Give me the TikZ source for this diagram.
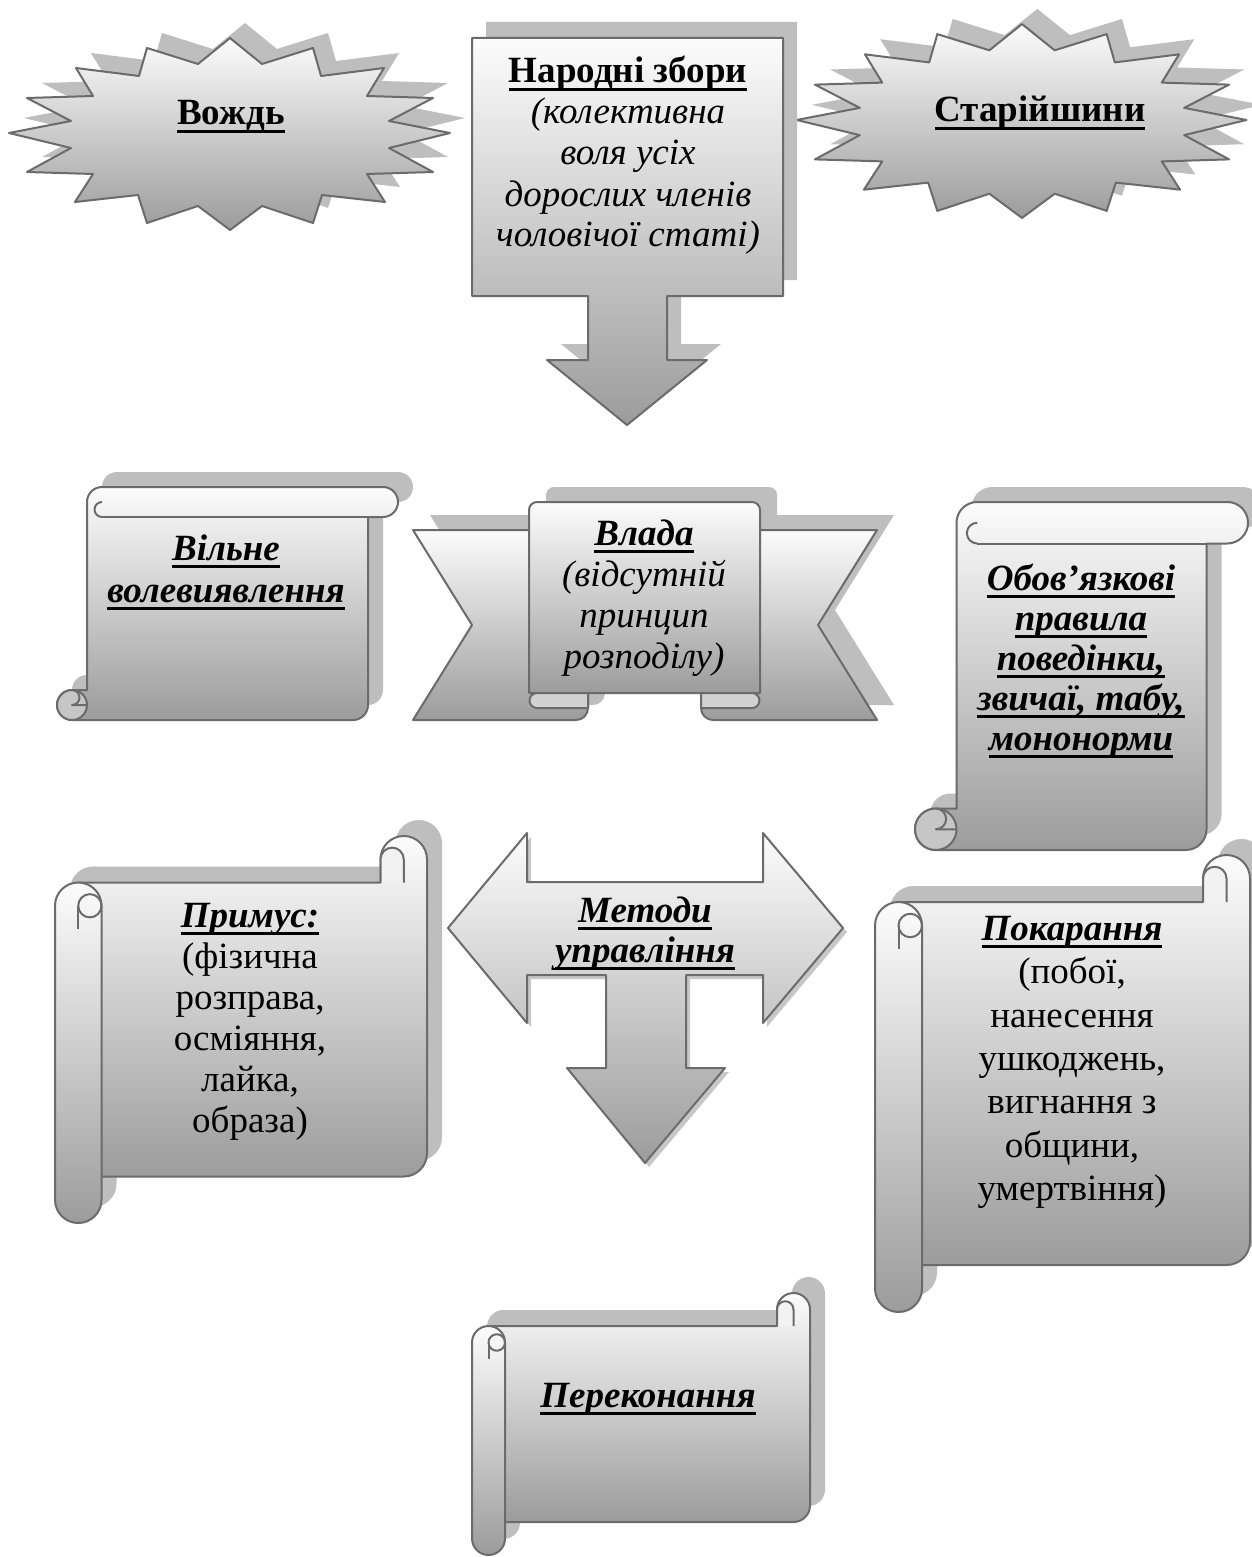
\documentclass[tikz,border=0pt]{standalone}
\usepackage{fontspec}
\setmainfont{Liberation Serif}
\newcommand\myul[1]{\setbox0\hbox{#1}\leavevmode\rlap{\rule[-3.9pt]{\wd0}{1.3pt}}\box0}
\definecolor{edgec}{HTML}{6B6B6B}
\definecolor{shadc}{HTML}{BEBEBE}
\definecolor{gtop}{HTML}{FCFCFC}
\definecolor{gbot}{HTML}{9C9C9C}
\definecolor{curlc}{HTML}{C6C6C6}
\definecolor{bandc}{HTML}{D2D2D2}

% vertical scroll: l t r b ch
\newcommand\VScroll[5]{%
 \pgfmathsetmacro\va{#1}\pgfmathsetmacro\vb{#2}\pgfmathsetmacro\vc{#3}\pgfmathsetmacro\vd{#4}%
 \pgfmathsetmacro\vh{#5/2}\pgfmathsetmacro\vq{#5/4}%
 \pgfmathsetmacro\vL{#1+#5}\pgfmathsetmacro\vR{#3-#5}%
 \pgfmathsetmacro\vtH{#2+#5/2}\pgfmathsetmacro\vtC{#2+#5}%
 \pgfmathsetmacro\vbH{#4-#5/2}\pgfmathsetmacro\vbC{#4-#5}%
 \pgfmathsetmacro\vlH{#1+#5/2}\pgfmathsetmacro\vLH{#1+1.5*#5}%
 \pgfmathsetmacro\vrH{#3-#5/2}%
 \def\vout{(\vL,\vtH) arc[start angle=180,end angle=270,radius=\vh] -- (\vrH,\vb) arc[start angle=270,end angle=450,radius=\vh] -- (\vR,\vtC) -- (\vR,\vbH) arc[start angle=0,end angle=90,radius=\vh] -- (\vlH,\vd) arc[start angle=90,end angle=270,radius=\vh] -- (\vL,\vbC) -- cycle}%
 \fill[shadc,shift={(15,-15)}] \vout;
 \path[face] \vout;
 \draw[edgeline] (\vLH,\vtC) -- (\vR,\vtC);
 \draw[edgeline] (\vLH,\vtH) arc[start angle=270,end angle=90,radius=\vq];
 \path[edgeline,fill=curlc] (\vlH,\vbH) circle[radius=\vh];
 \draw[edgeline] (\vlH,\vbC) arc[start angle=270,end angle=450,radius=\vq] -- (\vL,\vbH);
}
% horizontal scroll: l t r b ch
\newcommand\HScroll[5]{%
 \pgfmathsetmacro\ha{#1}\pgfmathsetmacro\hb{#2}\pgfmathsetmacro\hc{#3}\pgfmathsetmacro\hd{#4}%
 \pgfmathsetmacro\hh{#5/2}\pgfmathsetmacro\hq{#5/4}%
 \pgfmathsetmacro\hT{#2+#5}\pgfmathsetmacro\hB{#4-#5}%
 \pgfmathsetmacro\hlH{#1+#5/2}\pgfmathsetmacro\hlC{#1+#5}\pgfmathsetmacro\hlHq{#1+0.75*#5}%
 \pgfmathsetmacro\hrC{#3-#5}\pgfmathsetmacro\hrH{#3-#5/2}%
 \pgfmathsetmacro\htH{#2+#5/2}\pgfmathsetmacro\hBH{#4-1.5*#5}%
 \pgfmathsetmacro\hTH{#2+1.5*#5}\pgfmathsetmacro\hTC{#2+2*#5}\pgfmathsetmacro\hbH{#4-#5/2}%
 \def\hbody{(\hlH,\hT) -- (\hrC,\hT) -- (\hrC,\htH) arc[start angle=180,end angle=360,radius=\hh] -- (\hc,\hBH) arc[start angle=0,end angle=90,radius=\hh] -- (\hlH,\hB) -- cycle}%
 \def\hroll{(\ha,\hbH) -- (\ha,\hTH) arc[start angle=180,end angle=360,radius=\hh] -- (\hlC,\hbH) arc[start angle=0,end angle=180,radius=\hh] -- cycle}%
 \fill[shadc,shift={(15,-16)}] \hbody;
 \fill[shadc,shift={(15,-16)}] \hroll;
 \path[face] \hbody;
 \path[edgeline,fill=white!95!black] (\hrH,\hT) -- (\hrH,\htH) arc[start angle=0,end angle=-180,radius=\hq] -- (\hrC,\hT);
 \path[face] \hroll;
 \draw[edgeline] (\hlHq,\hTH) circle[radius=\hq];
 \draw[edgeline] (\hlH,\hTH) -- (\hlH,\hTC);
}
\newcommand\starpoly{(0,-96) -- (32,-70) -- (83,-86) -- (91,-58) -- (154,-66) -- (137,-38) -- (203,-36) -- (159,-13) -- (220,-1) -- (159,14) -- (203,38) -- (137,40) -- (155,68) -- (92,61) -- (83,89) -- (32,72) -- (0,96) -- (-32,72) -- (-83,89) -- (-92,61) -- (-155,68) -- (-137,40) -- (-203,38) -- (-159,14) -- (-221,-1) -- (-159,-13) -- (-203,-36) -- (-137,-38) -- (-154,-66) -- (-91,-58) -- (-83,-86) -- (-32,-70) -- cycle}

\begin{document}
\begin{tikzpicture}[x=0.5pt,y=-0.5pt,
  face/.style={draw=edgec,line width=1pt,top color=gtop,bottom color=gbot,line join=round},
  edgeline/.style={draw=edgec,line width=1pt,line join=round},
  txt/.style={anchor=base,inner sep=0pt,font=\fontsize{18.5}{20}\selectfont},
  tb/.style={txt,font=\fontsize{18.5}{20}\selectfont\bfseries},
  tbi/.style={txt,font=\fontsize{18.5}{20}\selectfont\bfseries\itshape},
  ti/.style={txt,font=\fontsize{18.5}{20}\selectfont\itshape}]
\useasboundingbox (0,0) rectangle (1252,1557);
\fill[white] (0,0) rectangle (1252,1557);

% ---- stars
\begin{scope}[shift={(230,134)}]
 \fill[shadc,shift={(15,-15)}] \starpoly;
 \path[face] \starpoly;
\end{scope}
\begin{scope}[shift={(1022,121)},xscale=1.02,yscale=1.01]
 \fill[shadc,shift={(15,-15)}] \starpoly;
 \path[face] \starpoly;
\end{scope}
\node[tb] (vozhd) at (231,125) {\myul{Вождь}};
\node[tb] (starsh) at (1040,122) {\myul{Старійшини}};

% ---- народні збори (down arrow callout)
\def\callout{(472,38) -- (783,38) -- (783,296) -- (667,296) -- (667,360) -- (707,360) -- (627,425) -- (547,360) -- (588,360) -- (588,296) -- (472,296) -- cycle}
\fill[shadc,shift={(14,-16)}] \callout;
\path[face] \callout;
\node[tb] (nz1) at (628,83) {\myul{Народні збори}};
\node[ti] (nz2) at (628,124) {(колективна};
\node[ti] (nz3) at (628,165) {воля усіх};
\node[ti] (nz4) at (628,206) {дорослих членів};
\node[ti] (nz5) at (628,247) {чоловічої статі)};

% ---- вільне волевиявлення
\VScroll{57}{487}{398}{720}{30}
\node[tbi] (viln1) at (226,560) {\myul{Вільне}};
\node[tbi] (viln2) at (226,602) {\myul{волевиявлення}};

% ---- влада (ribbon)
\def\lwing{(413,530) -- (588,530) -- (588,708) arc[start angle=0,end angle=90,radius=12] -- (413,720) -- (472,625) -- cycle}
\def\rwing{(877,530) -- (701,530) -- (701,708) arc[start angle=180,end angle=90,radius=12] -- (877,720) -- (818,625) -- cycle}
\def\panel{(529,693) -- (529,510) arc[start angle=180,end angle=270,radius=8] -- (752,502) arc[start angle=270,end angle=360,radius=8] -- (760,693) -- cycle}
\fill[shadc,shift={(17,-15)}] \lwing;
\fill[shadc,shift={(17,-15)}] \rwing;
\fill[shadc,shift={(17,-15)}] \panel;
\path[face] \lwing;
\path[face] \rwing;
\path[face] \panel;
\path[edgeline,fill=bandc] (588,693) -- (537,693) arc[start angle=270,end angle=90,radius=7.5] -- (588,708) -- cycle;
\path[edgeline,fill=bandc] (701,693) -- (752,693) arc[start angle=270,end angle=450,radius=7.5] -- (701,708) -- cycle;
\node[tbi] (vlada1) at (644,545) {\myul{Влада}};
\node[ti] (vlada2) at (644,586) {(відсутній};
\node[ti] (vlada3) at (644,627) {принцип};
\node[ti] (vlada4) at (644,668) {розподілу)};

% ---- обов'язкові правила
\VScroll{915}{502}{1248}{850}{41.5}
\node[tbi] (obov1) at (1081,590) {\myul{Обов’язкові}};
\node[tbi] (obov2) at (1081,630) {\myul{правила}};
\node[tbi] (obov3) at (1081,670) {\myul{поведінки,}};
\node[tbi] (obov4) at (1081,710) {\myul{звичаї, табу,}};
\node[tbi] (obov5) at (1081,750) {\myul{мононорми}};

% ---- примус
\HScroll{55}{836}{427}{1223}{46.5}
\node[tbi] (prym1) at (250,927) {\myul{Примус:}};
\node[txt] (prym2) at (250,968) {(фізична};
\node[txt] (prym3) at (250,1009) {розправа,};
\node[txt] (prym4) at (250,1050) {осміяння,};
\node[txt] (prym5) at (250,1091) {лайка,};
\node[txt] (prym6) at (250,1132) {образа)};

% ---- методи управління (left-right-down arrow)
\def\metarrow{(448,928) -- (527,833) -- (527,882) -- (763,882) -- (763,833) -- (843,928) -- (763,1023) -- (763,975) -- (686,975) -- (686,1068) -- (725,1068) -- (645,1163) -- (567,1068) -- (606,1068) -- (606,975) -- (527,975) -- (527,1023) -- cycle}
\fill[black!22,shift={(4,4)}] \metarrow;
\path[face] \metarrow;
\node[tbi] (metod1) at (645,922) {\myul{Методи}};
\node[tbi] (metod2) at (645,962) {\myul{управління}};

% ---- покарання
\HScroll{875}{855}{1250}{1312}{47}
\node[tbi] (pokar1) at (1072,940) {\myul{Покарання}};
\node[txt] (pokar2) at (1072,983.5) {(побої,};
\node[txt] (pokar3) at (1072,1027) {нанесення};
\node[txt] (pokar4) at (1072,1070) {ушкоджень,};
\node[txt] (pokar5) at (1072,1113.5) {вигнання з};
\node[txt] (pokar6) at (1072,1157) {общини,};
\node[txt] (pokar7) at (1072,1200) {умертвіння)};

% ---- переконання
\HScroll{472}{1293}{810}{1555}{33}
\node[tbi] (perek) at (648,1407) {\myul{Переконання}};
\end{tikzpicture}
\end{document}
